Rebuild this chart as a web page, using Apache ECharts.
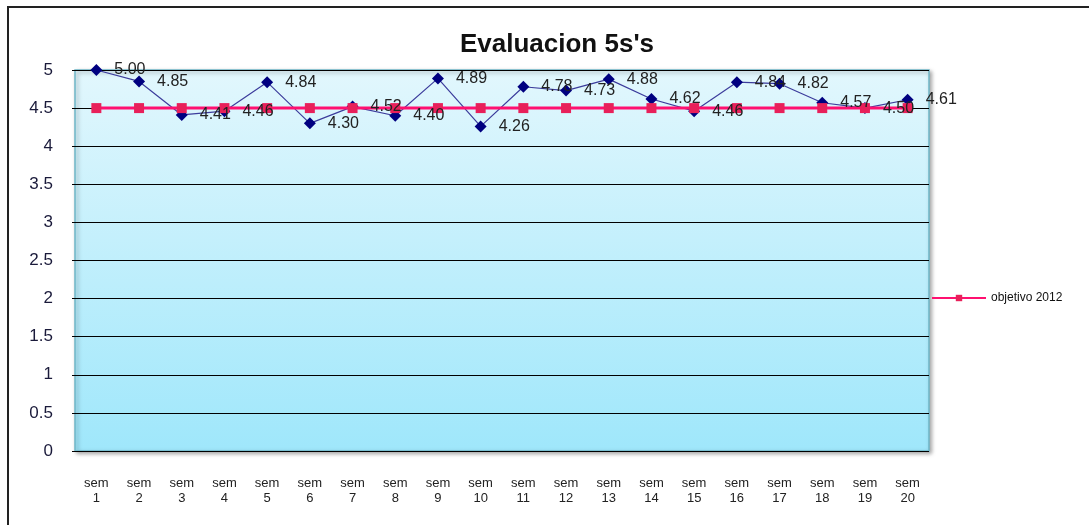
<!DOCTYPE html>
<html><head><meta charset="utf-8">
<script src="https://cdn.jsdelivr.net/npm/echarts@6/dist/echarts.min.js"></script>
<style>html,body{margin:0;padding:0;background:#fff}#c{width:1089px;height:525px}</style>
</head><body><div id="c"></div>
<script>
const categories = ['sem\n1','sem\n2','sem\n3','sem\n4','sem\n5','sem\n6','sem\n7','sem\n8','sem\n9','sem\n10','sem\n11','sem\n12','sem\n13','sem\n14','sem\n15','sem\n16','sem\n17','sem\n18','sem\n19','sem\n20'];
const evaluacion = [5.00,4.85,4.41,4.46,4.84,4.30,4.52,4.40,4.89,4.26,4.78,4.73,4.88,4.62,4.46,4.84,4.82,4.57,4.50,4.61];
const objetivo = [4.5,4.5,4.5,4.5,4.5,4.5,4.5,4.5,4.5,4.5,4.5,4.5,4.5,4.5,4.5,4.5,4.5,4.5,4.5,4.5];
const yTicks = {min:0, max:5, interval:0.5};

const chart = echarts.init(document.getElementById('c'));
chart.setOption({
  animation:false,
  textStyle:{fontFamily:'Liberation Sans, Arial, sans-serif'},
  title:{text:"Evaluacion 5s's", left:552, top:27, textAlign:'center',
    textStyle:{fontSize:26, fontWeight:'bold', color:'#111'}},
  graphic:[{type:'rect', shape:{x:8,y:7,width:1200,height:700}, style:{fill:'none', stroke:'#222', lineWidth:2}, silent:true, z:-10}],
  legend:{data:['objetivo 2012'], left:926, top:287, itemWidth:54, itemHeight:8,
    textStyle:{fontSize:12, color:'#111'}, itemGap:4},
  grid:{left:75, right:160, top:70, bottom:74, show:true, borderColor:'#6fb7c7', borderWidth:1.5,
    backgroundColor:new echarts.graphic.LinearGradient(0,0,0,1,[{offset:0,color:'#e2f7fd'},{offset:1,color:'#9fe7fb'}]),
    shadowColor:'rgba(0,0,0,0.35)', shadowBlur:4, shadowOffsetX:2, shadowOffsetY:2},
  xAxis:{type:'category', data:categories, boundaryGap:true,
    axisLine:{show:false}, axisTick:{show:false},
    axisLabel:{fontSize:13, color:'#222', lineHeight:15, margin:25, interval:0}},
  yAxis:{type:'value', min:yTicks.min, max:yTicks.max, interval:yTicks.interval,
    axisLine:{show:false}, axisTick:{show:true, length:3, lineStyle:{color:'#000'}},
    axisLabel:{fontSize:17, color:'#1a1a3a', margin:22, formatter:v=>String(v)},
    splitLine:{show:true, lineStyle:{color:'#000', width:1}}},
  series:[
    {name:'evaluacion', type:'line', data:evaluacion, symbol:'diamond', symbolSize:12,
      lineStyle:{color:'#3c3c9c', width:1.2}, itemStyle:{color:'#000080'}, z:2},
    {name:'objetivo 2012', type:'line', data:objetivo, symbol:'rect', symbolSize:10,
      lineStyle:{color:'#ff1070', width:3}, itemStyle:{color:'#e8205a'}, z:3},
    {name:'etiquetas', type:'line', data:evaluacion, symbol:'diamond', symbolSize:12,
      itemStyle:{color:'rgba(0,0,0,0)', borderWidth:0}, lineStyle:{color:'rgba(0,0,0,0)', width:0}, z:4, silent:true,
      label:{show:true, position:'right', distance:12, fontSize:16, color:'#222',
        formatter:p=>p.value.toFixed(2)}}
  ]
});
</script></body></html>
